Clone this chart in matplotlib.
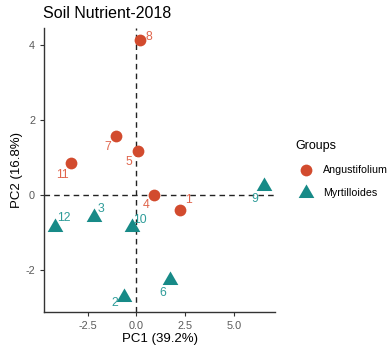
import matplotlib.pyplot as plt
import numpy as np

plt.rcParams['font.family'] = ['Liberation Sans', 'DejaVu Sans']

# PCA scores per sample
ang_ids = ['1', '4', '5', '7', '8', '11']
ang_pc1 = [2.23, 0.89, 0.07, -1.05, 0.17, -3.37]
ang_pc2 = [-0.40, 0.00, 1.18, 1.58, 4.13, 0.85]

myr_ids = ['2', '3', '6', '9', '10', '12']
myr_pc1 = [-0.62, -2.20, 1.72, 6.56, -0.22, -4.21]
myr_pc2 = [-2.73, -0.58, -2.27, 0.24, -0.85, -0.85]

# repelled label positions
ang_lab_x = [2.69, 0.50, -0.40, -1.48, 0.63, -3.83]
ang_lab_y = [-0.13, -0.27, 0.89, 1.29, 4.20, 0.53]
myr_lab_x = [-1.13, -1.80, 1.34, 6.08, 0.17, -3.75]
myr_lab_y = [-2.89, -0.37, -2.61, -0.11, -0.67, -0.62]

x_ticks = [-2.5, 0.0, 2.5, 5.0]
y_ticks = [-2, 0, 2, 4]

red = '#D24B2E'
teal = '#178A87'
red_txt = '#E0654C'
teal_txt = '#2E9C99'

# equilateral triangle like ggplot shape 17
tri = [(-1, -0.577), (1, -0.577), (0, 1.155), (-1, -0.577)]

fig = plt.figure(figsize=(3.9, 3.49), dpi=100)
ax = fig.add_axes([0.113, 0.107, 0.592, 0.813])

ax.axhline(0, color='#222222', ls=(0, (4, 3)), lw=1, zorder=1)
ax.axvline(0, color='#222222', ls=(0, (4, 3)), lw=1, zorder=1)

ax.scatter(ang_pc1, ang_pc2, s=72, color=red, marker='o', lw=0,
           label='Angustifolium', zorder=3)
ax.scatter(myr_pc1, myr_pc2, s=170, color=teal, marker=tri, lw=0,
           label='Myrtilloides', zorder=3)

for t, x, y in zip(ang_ids, ang_lab_x, ang_lab_y):
    ax.text(x, y, t, color=red_txt, fontsize=8.8, ha='center', va='center', zorder=4)
for t, x, y in zip(myr_ids, myr_lab_x, myr_lab_y):
    ax.text(x, y, t, color=teal_txt, fontsize=8.8, ha='center', va='center', zorder=4)

ax.set_xlim(-4.75, 7.12)
ax.set_ylim(-3.11, 4.45)
ax.set_xticks(x_ticks)
ax.set_xticklabels(['%.1f' % v for v in x_ticks])
ax.set_yticks(y_ticks)
ax.set_yticklabels([str(v) for v in y_ticks])
ax.tick_params(labelsize=7.8, labelcolor='#595959', color='#333333',
               length=3, width=0.8)

for side in ['top', 'right']:
    ax.spines[side].set_visible(False)
for side in ['left', 'bottom']:
    ax.spines[side].set_color('#333333')
    ax.spines[side].set_linewidth(1)

ax.set_xlabel('PC1 (39.2%)', fontsize=9.5, labelpad=2)
ax.set_ylabel('PC2 (16.8%)', fontsize=9.5, labelpad=2)

fig.text(43 / 390, 1 - 18 / 349, 'Soil Nutrient-2018', fontsize=11.5,
         va='baseline', ha='left')

leg = ax.legend(title='Groups', loc='upper left',
                bbox_to_anchor=(295 / 390, 1 - 140 / 349),
                bbox_transform=fig.transFigure, frameon=False,
                fontsize=7.7, title_fontsize=9, alignment='left',
                handletextpad=0.6, labelspacing=1.2, borderaxespad=0,
                borderpad=0)

fig.savefig('out.png', dpi=100)
